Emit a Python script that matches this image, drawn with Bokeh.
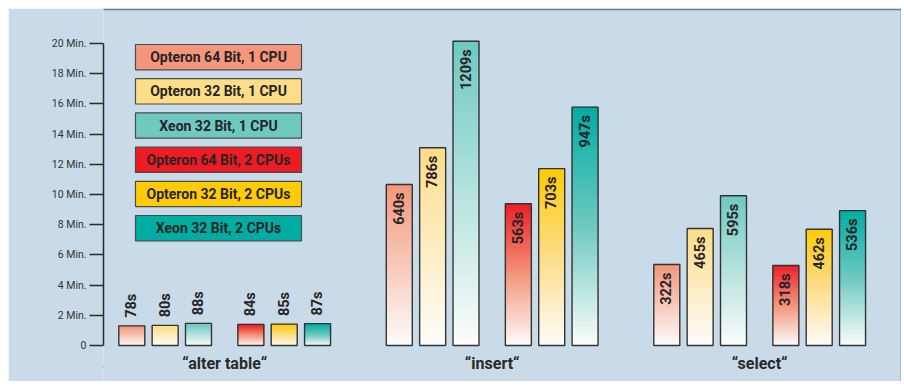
import numpy as np
from bokeh.plotting import figure
from bokeh.models import Range1d, FixedTicker, Label, ColumnDataSource, BoxAnnotation
from bokeh.core.properties import value
from bokeh.embed import file_html
from bokeh.resources import INLINE

# ---------------- data ----------------
groups = ["\u201calter table\u201c", "\u201cinsert\u201c", "\u201cselect\u201c"]
series = ["Opteron 64 Bit, 1 CPU", "Opteron 32 Bit, 1 CPU", "Xeon 32 Bit, 1 CPU",
          "Opteron 64 Bit, 2 CPUs", "Opteron 32 Bit, 2 CPUs", "Xeon 32 Bit, 2 CPUs"]
alter_table = [78, 80, 88, 84, 85, 87]      # seconds
insert = [640, 786, 1209, 563, 703, 947]    # seconds
select = [322, 465, 595, 318, 462, 536]     # seconds
tick_values = [0, 120, 240, 360, 480, 600, 720, 840, 960, 1080, 1200]
tick_labels = ["0", "2 Min.", "4 Min.", "6 Min.", "8 Min.", "10 Min.",
               "12 Min.", "14 Min.", "16 Min.", "18 Min.", "20 Min."]
axis_title = "Runtime"

# ---------------- styling ----------------
BG = "#c9dbe8"
INK = "#262424"
series_colors = ["#f4967b", "#fedd89", "#6ec9c1", "#ed1c24", "#ffcb05", "#00ada2"]
WHITE = "#fdfdfb"
gradient_stops = [
    [series_colors[0], WHITE],
    [series_colors[1], WHITE],
    [series_colors[2], WHITE],
    [series_colors[3], series_colors[0], WHITE],
    [series_colors[4], series_colors[1], WHITE],
    [series_colors[5], series_colors[2], WHITE],
]

# layout (page pixels)
OFF_X, OFF_Y = 8, 8   # where the figure sits on the page
W, H = 893, 373
AXIS_X = 103          # page x of the y axis line
Y0_PAGE = 345         # page y of value 0
Y_TOP_PAGE = 43       # page y of 1200 s
S = 1200.0 / (Y0_PAGE - Y_TOP_PAGE)   # seconds per pixel
FRAME_W = W - (AXIS_X - OFF_X)
PITCH = 33.35
GROUP_STEP = 267.5
FIRST_CENTER = 28.3
BAR_W = 26
slot = [0, 1, 2, 3.57, 4.57, 5.57]


def ydat(page_y):
    return (Y0_PAGE - page_y) * S


def xdat(page_x):
    return page_x - AXIS_X


def hex2rgb(h):
    h = h.lstrip("#")
    return np.array([int(h[i:i + 2], 16) for i in (0, 2, 4)], dtype=float)


def interp(stops, t):
    n = len(stops) - 1
    pos = t * n
    i = min(int(pos), n - 1)
    f = pos - i
    c = hex2rgb(stops[i]) * (1 - f) + hex2rgb(stops[i + 1]) * f
    return "#%02x%02x%02x" % tuple(int(round(v)) for v in c)


p = figure(width=W, height=H,
           x_range=Range1d(0, FRAME_W),
           y_range=Range1d(ydat(H + OFF_Y), ydat(OFF_Y)),
           output_backend="svg", toolbar_location=None,
           x_axis_location=None,
           min_border_left=AXIS_X - OFF_X, min_border_right=0,
           min_border_top=0, min_border_bottom=0,
           background_fill_color=BG, border_fill_color=BG,
           outline_line_color=None)
p.xgrid.visible = False
p.ygrid.visible = False
p.styles = {"margin-left": "8px", "margin-top": "8px"}

# panel frame line (left, top, right)
p.add_layout(BoxAnnotation(left=xdat(10.5), right=xdat(900.8), top=ydat(9),
                           bottom=ydat(420), fill_color=None, fill_alpha=0,
                           line_color="#6f7c86", line_width=1.3, line_alpha=1))

# y axis
ya = p.yaxis[0]
ya.ticker = FixedTicker(ticks=tick_values)
ya.major_label_overrides = {v: l for v, l in zip(tick_values, tick_labels)}
ya.bounds = (0, 1200)
ya.axis_line_color = "#2b2b2b"
ya.axis_line_width = 1.5
ya.major_tick_line_color = "#2b2b2b"
ya.major_tick_line_width = 1.3
ya.major_tick_in = 0
ya.major_tick_out = 14
ya.minor_tick_line_color = None
ya.major_label_standoff = 3
ya.major_label_text_font = "Roboto"
ya.major_label_text_font_size = "10.5px"
ya.major_label_text_color = "#333333"

# bars
all_values = [alter_table, insert, select]
N = 48
sl = dict(left=[], right=[], bottom=[], top=[], color=[])
bars = dict(x=[], top=[])
lab_in = dict(x=[], y=[], text=[])
lab_out = dict(x=[], y=[], text=[])
group_centers = []
for g, vals in enumerate(all_values):
    xs = [FIRST_CENTER + g * GROUP_STEP + s * PITCH for s in slot]
    group_centers.append((xs[0] + xs[-1]) / 2)
    for s, v in enumerate(vals):
        x = xs[s]
        for k in range(N):
            b = v * k / N
            t = v * (k + 1) / N
            col = interp(gradient_stops[s], 1 - (k + 0.5) / N)
            sl["left"].append(x - BAR_W / 2)
            sl["right"].append(x + BAR_W / 2)
            sl["bottom"].append(b)
            sl["top"].append(t)
            sl["color"].append(col)
        bars["x"].append(x)
        bars["top"].append(v)
        if v > 200:
            lab_in["x"].append(x)
            lab_in["y"].append(v - 8 * S)
            lab_in["text"].append(f"{v}s")
        else:
            lab_out["x"].append(x)
            lab_out["y"].append(v + 8 * S)
            lab_out["text"].append(f"{v}s")

p.quad(left="left", right="right", bottom="bottom", top="top",
       fill_color="color", line_color="color", line_width=0.6,
       source=ColumnDataSource(sl))
p.vbar(x="x", top="top", width=BAR_W, bottom=0, fill_color=None,
       line_color="#333333", line_width=1.4, source=ColumnDataSource(bars))

for src, align in ((lab_in, "right"), (lab_out, "left")):
    p.text(x="x", y="y", text="text", angle=np.pi / 2, source=ColumnDataSource(src),
           text_align=align, text_baseline="middle",
           text_font=value("Roboto"), text_font_style="bold",
           text_font_size="14.5px", text_color=INK)

# group labels
p.text(x=group_centers, y=[ydat(363)] * len(groups), text=groups,
       text_align="center", text_baseline="middle",
       text_font=value("Roboto"), text_font_style="bold",
       text_font_size="16px", text_color="#2a2a2a")

# legend boxes
LEG_L, LEG_R = xdat(135), xdat(301)
LEG_TOP0, LEG_STEP, LEG_H = 44, 34.2, 25.3
leg = dict(left=[], right=[], top=[], bottom=[], color=[], x=[], y=[], text=[])
for i, name in enumerate(series):
    top = LEG_TOP0 + i * LEG_STEP
    leg["left"].append(LEG_L)
    leg["right"].append(LEG_R)
    leg["top"].append(ydat(top))
    leg["bottom"].append(ydat(top + LEG_H))
    leg["color"].append(series_colors[i])
    leg["x"].append((LEG_L + LEG_R) / 2)
    leg["y"].append(ydat(top + LEG_H / 2))
    leg["text"].append(name)
lsrc = ColumnDataSource(leg)
p.quad(left="left", right="right", top="top", bottom="bottom", fill_color="color",
       line_color="#4a4a4a", line_width=1.2, source=lsrc)
p.text(x="x", y="y", text="text", source=lsrc, text_align="center",
       text_baseline="middle", text_font=value("Roboto"), text_font_style="bold",
       text_font_size="14px", text_color=INK)

# axis title
p.add_layout(Label(x=0, y=ydat(367), text=axis_title, text_align="right",
                   text_baseline="middle", text_font="Roboto",
                   text_font_size="11px", text_color="#333333"))

open("out.html", "w").write(file_html(p, INLINE))
